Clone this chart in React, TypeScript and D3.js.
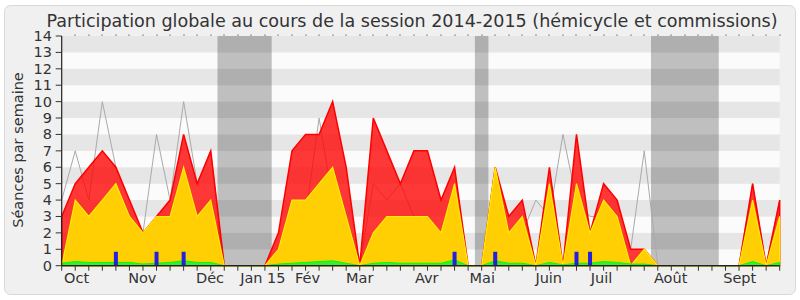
import React from "react";
import * as d3 from "d3";

const WEEKS = d3.range(54);
const presences = [3,5,6,7,6,4,2,3,4,8,5,7,0,0,0,0,2,7,8,8,10,6,0,9,7,5,7,7,4,6,0,0,6,3,4,0,6,0,8,2,5,4,1,1,0,0,0,0,0,0,0,5,0,4];
const commissions = [0,4,3,4,5,3,2,3,3,6,3,4,0,0,0,0,1,4,4,5,6,3,0,2,3,3,3,3,2,5,0,0,6,2,3,0,5,0,5,2,4,3,0,1,0,0,0,0,0,0,0,4,0,3];
const hemicycle = [0.15,0.25,0.2,0.2,0.2,0.2,0.1,0.15,0.2,0.3,0.2,0.2,0,0,0,0,0.1,0.15,0.2,0.25,0.3,0.15,0,0.15,0.2,0.15,0.15,0.15,0.15,0.35,0,0,0.3,0.15,0.15,0,0.2,0.05,0.15,0.15,0.25,0.2,0.1,0.1,0,0,0,0,0,0,0,0.25,0,0.2];
const mediane = [4,7,4,10,6,4,2,8,4,10,5,7,0,0,0,0,1,3,3,9,4,3,0,5,4,5,3,3,2,5,0,0,6,2,2,4,3,8,4,3,3,2,1,7,0,0,0,0,0,0,0,5,0,4];
const questionWeeks = [4,7,9,29,32,38,39];
const questionValues = [0.85,0.85,0.85,0.85,0.85,0.85,0.85];
const vacations: [number, number][] = [[11.5,15.5],[30.5,31.5],[43.5,48.5]];
const monthLabels = ["Oct","Nov","Déc","Jan 15","Fév","Mar","Avr","Mai","Juin","Juil","Août","Sept"];
const monthWeeks = [1.1,5.95,10.95,14.85,18.15,22,26.95,31.05,35.95,39.85,44.95,50.05];
const yTicks = d3.range(15);

const TITLE = "Participation globale au cours de la session 2014-2015 (hémicycle et commissions)";
const YLABEL = "Séances par semaine";

export default function App() {
  const x = d3.scaleLinear().domain([0, 53]).range([61.7, 779.7]);
  const y = d3.scaleLinear().domain([0, 14]).range([265.7, 36]);
  const area = (vals: number[]) =>
    d3.area<number>().x((_, i) => x(i)).y0(y(0)).y1((d) => y(d))(vals) || "";
  const line = (vals: number[]) =>
    d3.line<number>().x((_, i) => x(i)).y((d) => y(d))(vals) || "";
  const font = "'DejaVu Sans', Verdana, sans-serif";
  const [x0, x1] = x.range();
  return (
    <svg width={800} height={300} style={{ position: "absolute", left: 0, top: 0, background: "#fff" }}>
      <rect x={4.5} y={5.5} width={791} height={289} rx={6} fill="#f0f0f0" stroke="#d8d8d8" />
      <text x={412} y={27} textAnchor="middle" fontFamily="'DejaVu Sans Condensed', 'DejaVu Sans', sans-serif" fontSize={18.5} fill="#333" textLength={731} lengthAdjust="spacingAndGlyphs">{TITLE}</text>
      {yTicks.slice(0, 14).map((k) => (
        <rect key={"b" + k} x={x0} y={y(k + 1)} width={x1 - x0} height={y(k) - y(k + 1)} fill={k % 2 === 1 ? "#e6e6e6" : "#fbfbfb"} />
      ))}
      {vacations.map(([a, b], i) => (
        <rect key={"v" + i} x={x(a)} y={y(14)} width={x(b) - x(a)} height={y(0) - y(14)} fill="#000" fillOpacity={0.24} />
      ))}
      {WEEKS.slice(1).map((w) => (
        <rect key={"dot" + w} x={Math.round(x(w)) - 0.5} y={34.5} width={1} height={1.2} fill="#444" />
      ))}
      <path d={line(mediane)} fill="none" stroke="#aaaaaa" strokeWidth={1} />
      <path d={area(presences)} fill="rgba(255,0,0,0.78)" stroke="#ff0000" strokeWidth={1.5} strokeLinejoin="miter" />
      <path d={area(commissions)} fill="rgba(255,218,0,0.93)" stroke="#ffee00" strokeWidth={1.2} />
      <path d={area(hemicycle)} fill="#33ee33" stroke="#00ff00" strokeWidth={1} />
      {questionWeeks.map((w, i) => (
        <rect key={"q" + i} x={x(w) - 2} y={y(questionValues[i])} width={4} height={y(0) - y(questionValues[i])} fill="#2222dd" />
      ))}
      <line x1={x0} x2={x1} y1={y(0)} y2={y(0)} stroke="#222" strokeWidth={1.2} />
      <line x1={x0} x2={x0} y1={y(0)} y2={y(14)} stroke="#222" strokeWidth={1.2} />
      {yTicks.map((k) => (
        <g key={"yt" + k}>
          <line x1={x0 - 6} x2={x0} y1={y(k)} y2={y(k)} stroke="#333" />
          <text x={52} y={y(k) + 5} textAnchor="end" fontFamily={font} fontSize={14.5} fill="#333">{k}</text>
        </g>
      ))}
      {WEEKS.map((w) => (
        <line key={"xt" + w} x1={x(w)} x2={x(w)} y1={y(0)} y2={y(0) + 5} stroke="#333" />
      ))}
      {monthLabels.map((m, i) => (
        <text key={"m" + i} x={x(monthWeeks[i])} y={283} textAnchor="middle" fontFamily={font} fontSize={14.5} fill="#333">{m}</text>
      ))}
      <text transform={`translate(23,150) rotate(-90)`} textAnchor="middle" fontFamily={font} fontSize={14.5} fill="#333">{YLABEL}</text>
    </svg>
  );
}
